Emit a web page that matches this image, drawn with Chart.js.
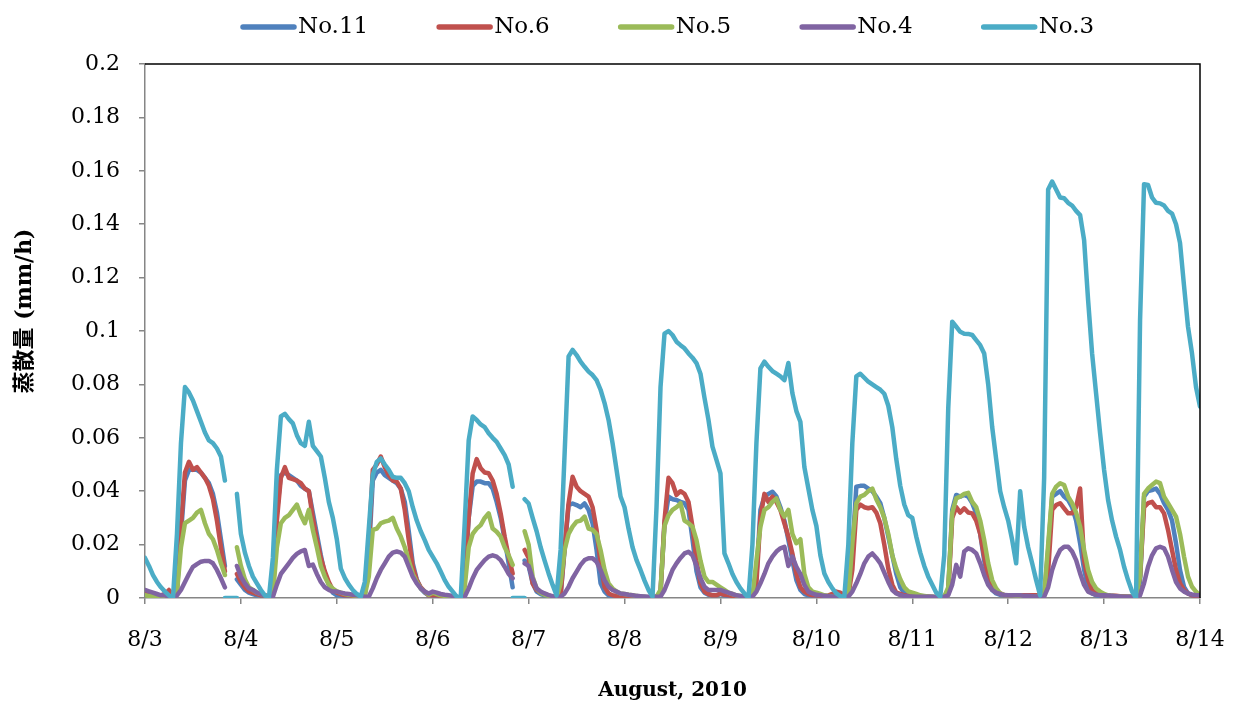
<!DOCTYPE html>
<html lang="ja">
<head>
<meta charset="utf-8">
<title>蒸散量</title>
<script src="https://cdn.jsdelivr.net/npm/chart.js@4.4.1/dist/chart.umd.min.js"></script>
<style>
  html, body { margin: 0; padding: 0; background: #fff; }
  #grafico { display: block; }
</style>
</head>
<body>
<canvas id="grafico" width="1237" height="711"></canvas>
<script>
// Etiquetas del eje X: un tick por día (agosto de 2010)
const etiquetasDias = ['8/3', '8/4', '8/5', '8/6', '8/7', '8/8', '8/9', '8/10', '8/11', '8/12', '8/13', '8/14'];

// Series y colores
const nombresSeries = ['No.11', 'No.6', 'No.5', 'No.4', 'No.3'];
const coloresSeries = ['#4F81BD', '#C0504D', '#9BBB59', '#8064A2', '#4BACC6'];

// Valores horarios en mm/h, una fila de 24 por día (8/3 0:00 ... 8/14 0:00). null = sin dato
const no11 = [
    [0.002, 0.0015, 0.001, 0.001, 0.001, 0.0012, 0.002, 0.001, 0.003, 0.024, 0.044, 0.048, 0.048, 0.048, 0.047, 0.045, 0.043, 0.039, 0.032, 0.022, 0.012, null, null, 0.007],
    [0.005, 0.003, 0.002, 0.0015, 0.001, 0.001, 0.0008, 0.0005, 0.002, 0.032, 0.046, 0.047, 0.046, 0.045, 0.044, 0.042, 0.041, 0.040, 0.032, 0.024, 0.016, 0.009, 0.005, 0.002],
    [0.001, 0.001, 0.0008, 0.0006, 0.0005, 0.0004, 0.0003, 0.001, 0.016, 0.044, 0.047, 0.048, 0.046, 0.045, 0.044, 0.043, 0.041, 0.036, 0.025, 0.013, 0.007, 0.0036, 0.002, 0.001],
    [0.001, 0.0008, 0.0006, 0.0005, 0.0004, 0.0003, 0.0002, 0, 0.007, 0.030, 0.042, 0.0436, 0.0436, 0.043, 0.043, 0.041, 0.036, 0.030, 0.022, 0.013, 0.004, null, null, 0.014],
    [0.012, 0.0055, 0.0024, 0.0015, 0.001, 0.0008, 0.0005, 0, 0.001, 0.018, 0.0348, 0.0354, 0.0348, 0.034, 0.0354, 0.033, 0.028, 0.018, 0.0055, 0.0024, 0.001, 0.0008, 0.0006, 0.0005],
    [0.0005, 0.0005, 0.0004, 0.0004, 0.0003, 0.0003, 0.0002, 0, 0.0005, 0.002, 0.028, 0.038, 0.037, 0.0367, 0.036, 0.0355, 0.033, 0.022, 0.010, 0.004, 0.002, 0.0012, 0.001, 0.001],
    [0.0015, 0.001, 0.0008, 0.0006, 0.0005, 0.0004, 0.0003, 0.0003, 0.0005, 0.008, 0.033, 0.038, 0.039, 0.0398, 0.038, 0.034, 0.029, 0.0217, 0.014, 0.0067, 0.003, 0.0015, 0.001, 0.0008],
    [0.0008, 0.0006, 0.0005, 0.0005, 0.0005, 0.0005, 0.0004, 0.0003, 0.001, 0.018, 0.0417, 0.042, 0.042, 0.041, 0.040, 0.038, 0.0355, 0.030, 0.023, 0.016, 0.009, 0.004, 0.002, 0.001],
    [0.0008, 0.0007, 0.0006, 0.0005, 0.0005, 0.0004, 0.0003, 0.0002, 0.0005, 0.003, 0.033, 0.0386, 0.038, 0.0386, 0.038, 0.0355, 0.0317, 0.024, 0.014, 0.0067, 0.003, 0.0017, 0.0012, 0.001],
    [0.001, 0.001, 0.001, 0.001, 0.001, 0.001, 0.001, 0.001, 0.001, 0.001, 0.018, 0.038, 0.039, 0.040, 0.038, 0.0367, 0.034, 0.029, 0.0205, 0.0105, 0.0042, 0.0017, 0.001, 0.0008],
    [0.0008, 0.0007, 0.0006, 0.0006, 0.0005, 0.0005, 0.0005, 0.0005, 0.0005, 0.006, 0.038, 0.040, 0.0404, 0.041, 0.039, 0.0355, 0.033, 0.029, 0.0205, 0.0105, 0.0042, 0.0017, 0.001, 0.0007],
    [0.0005]
];

const no6 = [
    [0.002, 0.0015, 0.001, 0.001, 0.001, 0.0015, 0.003, 0.001, 0.004, 0.027, 0.047, 0.051, 0.048, 0.049, 0.047, 0.045, 0.042, 0.037, 0.029, 0.019, 0.010, null, null, 0.009],
    [0.006, 0.004, 0.0025, 0.002, 0.0015, 0.001, 0.001, 0.0005, 0.002, 0.029, 0.045, 0.049, 0.045, 0.0445, 0.044, 0.043, 0.041, 0.040, 0.030, 0.022, 0.015, 0.010, 0.006, 0.003],
    [0.002, 0.0015, 0.001, 0.001, 0.0008, 0.0005, 0.0003, 0.001, 0.020, 0.048, 0.050, 0.053, 0.049, 0.046, 0.044, 0.0436, 0.041, 0.033, 0.0217, 0.0117, 0.0067, 0.004, 0.0024, 0.001],
    [0.001, 0.001, 0.0008, 0.0006, 0.0005, 0.0004, 0.0003, 0, 0.009, 0.030, 0.0467, 0.052, 0.0486, 0.047, 0.0467, 0.044, 0.039, 0.0317, 0.023, 0.0155, 0.0092, null, null, 0.018],
    [0.015, 0.0055, 0.003, 0.002, 0.0015, 0.001, 0.0005, 0, 0.001, 0.019, 0.0355, 0.0454, 0.0417, 0.040, 0.039, 0.038, 0.034, 0.0255, 0.013, 0.0042, 0.0017, 0.001, 0.0008, 0.0005],
    [0.0005, 0.0005, 0.0005, 0.0004, 0.0003, 0.0003, 0.0002, 0, 0.0005, 0.002, 0.029, 0.045, 0.043, 0.0386, 0.040, 0.039, 0.036, 0.0267, 0.014, 0.0055, 0.0024, 0.0015, 0.001, 0.001],
    [0.0017, 0.0012, 0.001, 0.0008, 0.0006, 0.0005, 0.0004, 0.0003, 0.0005, 0.0055, 0.030, 0.039, 0.036, 0.038, 0.036, 0.033, 0.028, 0.023, 0.0167, 0.009, 0.004, 0.0024, 0.0015, 0.001],
    [0.001, 0.0008, 0.0006, 0.001, 0.0015, 0.0024, 0.002, 0.001, 0.001, 0.0105, 0.033, 0.035, 0.034, 0.0336, 0.034, 0.032, 0.028, 0.020, 0.011, 0.005, 0.002, 0.0015, 0.001, 0.0008],
    [0.0008, 0.0007, 0.0006, 0.0005, 0.0005, 0.0004, 0.0003, 0.0002, 0.0005, 0.002, 0.030, 0.034, 0.032, 0.0336, 0.032, 0.0317, 0.029, 0.024, 0.0155, 0.008, 0.0042, 0.0024, 0.0017, 0.0011],
    [0.001, 0.001, 0.001, 0.001, 0.001, 0.001, 0.001, 0.001, 0.001, 0.001, 0.010, 0.033, 0.0348, 0.0355, 0.0336, 0.0317, 0.0317, 0.034, 0.041, 0.014, 0.0067, 0.003, 0.0017, 0.0011],
    [0.001, 0.001, 0.0008, 0.0008, 0.0007, 0.0006, 0.0005, 0.0005, 0.0005, 0.008, 0.034, 0.0355, 0.036, 0.034, 0.034, 0.0317, 0.0255, 0.018, 0.0105, 0.0055, 0.003, 0.0017, 0.001, 0.0008],
    [0.0005]
];

const no5 = [
    [0.001, 0.0008, 0.0006, 0.0005, 0.0004, 0.0003, 0.0002, 0, 0.002, 0.019, 0.028, 0.029, 0.030, 0.032, 0.033, 0.028, 0.024, 0.022, 0.018, 0.013, 0.0086, null, null, 0.019],
    [0.012, 0.007, 0.004, 0.003, 0.002, 0.0015, 0.001, 0.0005, 0.001, 0.019, 0.028, 0.030, 0.031, 0.033, 0.035, 0.031, 0.028, 0.033, 0.0255, 0.019, 0.012, 0.008, 0.005, 0.0035],
    [0.0025, 0.002, 0.0015, 0.0012, 0.001, 0.0008, 0.0005, 0.001, 0.008, 0.0255, 0.026, 0.028, 0.0286, 0.029, 0.030, 0.026, 0.023, 0.019, 0.014, 0.009, 0.006, 0.0036, 0.0024, 0.0012],
    [0.002, 0.0015, 0.001, 0.0008, 0.0006, 0.0005, 0.0003, 0, 0.004, 0.019, 0.024, 0.026, 0.0273, 0.030, 0.0317, 0.026, 0.0248, 0.023, 0.019, 0.016, 0.0124, null, null, 0.025],
    [0.020, 0.008, 0.0036, 0.002, 0.0012, 0.0008, 0.0005, 0, 0.0055, 0.018, 0.024, 0.0267, 0.0286, 0.029, 0.0305, 0.026, 0.0255, 0.024, 0.018, 0.0105, 0.0055, 0.0036, 0.0024, 0.0017],
    [0.0015, 0.0012, 0.001, 0.0008, 0.0006, 0.0005, 0.0003, 0, 0.0005, 0.003, 0.027, 0.031, 0.033, 0.034, 0.0355, 0.029, 0.028, 0.0267, 0.0217, 0.014, 0.008, 0.006, 0.006, 0.005],
    [0.004, 0.003, 0.002, 0.0015, 0.001, 0.0008, 0.0005, 0.0003, 0.0005, 0.014, 0.0267, 0.033, 0.034, 0.036, 0.0373, 0.033, 0.0305, 0.033, 0.024, 0.0205, 0.022, 0.009, 0.004, 0.0024],
    [0.002, 0.0015, 0.001, 0.0008, 0.0006, 0.0005, 0.0004, 0.0003, 0.001, 0.0205, 0.0355, 0.038, 0.0386, 0.040, 0.041, 0.037, 0.034, 0.030, 0.024, 0.016, 0.011, 0.007, 0.004, 0.0025],
    [0.002, 0.0015, 0.001, 0.0008, 0.0006, 0.0005, 0.0004, 0.0003, 0.0005, 0.004, 0.032, 0.0373, 0.038, 0.039, 0.0394, 0.036, 0.034, 0.029, 0.0217, 0.013, 0.0067, 0.0036, 0.0017, 0.0011],
    [0.001, 0.001, 0.0008, 0.0008, 0.0007, 0.0006, 0.0005, 0.0005, 0.0005, 0.001, 0.020, 0.039, 0.0417, 0.043, 0.0423, 0.038, 0.0355, 0.032, 0.0267, 0.018, 0.0105, 0.006, 0.0036, 0.0024],
    [0.0015, 0.001, 0.0008, 0.0007, 0.0006, 0.0005, 0.0005, 0.0005, 0.0005, 0.008, 0.039, 0.041, 0.0423, 0.0436, 0.043, 0.038, 0.0355, 0.033, 0.0305, 0.024, 0.0155, 0.008, 0.0042, 0.0024],
    [0.001]
];

const no4 = [
    [0.003, 0.0025, 0.002, 0.0015, 0.001, 0.001, 0.0005, 0, 0.001, 0.003, 0.006, 0.009, 0.0117, 0.0127, 0.0136, 0.0139, 0.0139, 0.013, 0.0105, 0.0074, 0.004, null, null, 0.012],
    [0.008, 0.0055, 0.0036, 0.003, 0.002, 0.0015, 0.001, 0.0005, 0.0005, 0.005, 0.009, 0.011, 0.013, 0.015, 0.0165, 0.0175, 0.018, 0.012, 0.0125, 0.009, 0.006, 0.004, 0.003, 0.0024],
    [0.0024, 0.002, 0.0017, 0.0015, 0.0012, 0.001, 0.0008, 0.0005, 0.0005, 0.0036, 0.0074, 0.0105, 0.013, 0.0155, 0.017, 0.0174, 0.017, 0.0155, 0.0117, 0.008, 0.0055, 0.0036, 0.0024, 0.0017],
    [0.0024, 0.002, 0.0015, 0.0012, 0.001, 0.0008, 0.0005, 0, 0.0005, 0.0036, 0.0074, 0.0105, 0.0124, 0.0142, 0.0155, 0.016, 0.0155, 0.0142, 0.0117, 0.009, 0.0074, null, null, 0.013],
    [0.012, 0.0074, 0.0036, 0.0024, 0.0017, 0.0011, 0.0007, 0.0005, 0.0005, 0.0017, 0.0042, 0.0074, 0.0099, 0.0124, 0.0142, 0.0149, 0.0149, 0.0136, 0.0105, 0.0067, 0.0042, 0.003, 0.0024, 0.0017],
    [0.0015, 0.0012, 0.001, 0.0008, 0.0007, 0.0006, 0.0005, 0.0005, 0.0005, 0.0005, 0.003, 0.0067, 0.0105, 0.013, 0.015, 0.0167, 0.0173, 0.016, 0.012, 0.0074, 0.0042, 0.003, 0.003, 0.003],
    [0.003, 0.0025, 0.002, 0.0015, 0.001, 0.0008, 0.0005, 0.0003, 0.0005, 0.0024, 0.0055, 0.009, 0.013, 0.0155, 0.0174, 0.0186, 0.0192, 0.012, 0.0155, 0.0117, 0.009, 0.0049, 0.0024, 0.0017],
    [0.0012, 0.001, 0.0008, 0.0007, 0.0006, 0.0005, 0.0005, 0.0005, 0.0005, 0.0024, 0.0055, 0.009, 0.013, 0.0155, 0.0167, 0.015, 0.013, 0.0095, 0.006, 0.003, 0.0017, 0.0011, 0.0008, 0.0006],
    [0.0006, 0.0005, 0.0005, 0.0005, 0.0005, 0.0005, 0.0004, 0.0003, 0.0005, 0.001, 0.005, 0.0124, 0.008, 0.0174, 0.0186, 0.018, 0.0167, 0.013, 0.0086, 0.0049, 0.003, 0.002, 0.0015, 0.0011],
    [0.001, 0.001, 0.001, 0.001, 0.0008, 0.0008, 0.0007, 0.0006, 0.0005, 0.0005, 0.004, 0.0105, 0.0149, 0.018, 0.0192, 0.0192, 0.0174, 0.0142, 0.0092, 0.0049, 0.0024, 0.0017, 0.0012, 0.001],
    [0.001, 0.0009, 0.0008, 0.0007, 0.0006, 0.0005, 0.0005, 0.0005, 0.0005, 0.001, 0.0055, 0.0117, 0.016, 0.0186, 0.0192, 0.0186, 0.0155, 0.0105, 0.006, 0.0036, 0.0024, 0.0017, 0.0013, 0.001],
    [0.001]
];

const no3 = [
    [0.015, 0.012, 0.0086, 0.006, 0.004, 0.0024, 0.001, 0, 0.024, 0.058, 0.079, 0.077, 0.074, 0.070, 0.066, 0.062, 0.059, 0.058, 0.056, 0.053, 0.044, null, null, 0.039],
    [0.024, 0.017, 0.012, 0.008, 0.0055, 0.003, 0.001, 0, 0.015, 0.048, 0.068, 0.069, 0.067, 0.0654, 0.061, 0.058, 0.057, 0.066, 0.057, 0.055, 0.053, 0.045, 0.036, 0.030],
    [0.022, 0.011, 0.0075, 0.005, 0.003, 0.0015, 0.0005, 0.006, 0.026, 0.046, 0.051, 0.0523, 0.050, 0.048, 0.0454, 0.045, 0.045, 0.043, 0.040, 0.034, 0.029, 0.025, 0.0217, 0.018],
    [0.0155, 0.013, 0.0099, 0.0067, 0.0042, 0.0024, 0.0005, 0, 0.028, 0.059, 0.068, 0.0667, 0.065, 0.064, 0.0617, 0.060, 0.0585, 0.056, 0.0535, 0.050, 0.0417, null, null, 0.037],
    [0.0354, 0.030, 0.025, 0.019, 0.014, 0.0092, 0.0049, 0.001, 0.018, 0.054, 0.0905, 0.0929, 0.091, 0.0885, 0.0866, 0.0848, 0.0835, 0.0816, 0.078, 0.073, 0.0667, 0.058, 0.048, 0.038],
    [0.034, 0.026, 0.019, 0.0142, 0.0105, 0.0065, 0.003, 0.0005, 0.034, 0.079, 0.099, 0.100, 0.0985, 0.096, 0.0947, 0.0935, 0.0916, 0.090, 0.088, 0.084, 0.075, 0.0667, 0.0567, 0.0517],
    [0.0467, 0.0167, 0.013, 0.009, 0.006, 0.0036, 0.0017, 0, 0.020, 0.058, 0.086, 0.0885, 0.0866, 0.085, 0.084, 0.083, 0.0816, 0.088, 0.0767, 0.070, 0.066, 0.049, 0.041, 0.033],
    [0.027, 0.016, 0.0092, 0.006, 0.0036, 0.0017, 0.0007, 0.0005, 0.020, 0.058, 0.083, 0.084, 0.0825, 0.081, 0.080, 0.079, 0.078, 0.0765, 0.072, 0.064, 0.052, 0.042, 0.035, 0.031],
    [0.030, 0.023, 0.017, 0.012, 0.008, 0.005, 0.002, 0.0005, 0.016, 0.071, 0.1035, 0.1016, 0.0997, 0.099, 0.0989, 0.0985, 0.0966, 0.0947, 0.0916, 0.080, 0.064, 0.052, 0.040, 0.034],
    [0.029, 0.0217, 0.013, 0.040, 0.0267, 0.019, 0.013, 0.0067, 0.001, 0.045, 0.153, 0.156, 0.153, 0.150, 0.1497, 0.148, 0.147, 0.145, 0.1434, 0.134, 0.1116, 0.0916, 0.0766, 0.0617],
    [0.048, 0.0367, 0.029, 0.023, 0.018, 0.0117, 0.0067, 0.0024, 0, 0.104, 0.155, 0.1547, 0.150, 0.148, 0.1478, 0.147, 0.145, 0.144, 0.140, 0.133, 0.117, 0.1016, 0.0916, 0.079],
    [0.0717]
];

// Horas (desde 8/3 0:00) en que No.3 quedó en cero, tramos sueltos sobre el eje
const no3HorasCero = [20, 21, 22, 23, 92, 93, 94, 95];

// Convierte las filas horarias en puntos {x: día, y: valor}
function armarPuntos(filas) {
    return filas.flat().map((y, i) => ({ x: i / 24, y: y }));
}

const valoresSeries = [no11, no6, no5, no4, no3];
const datasets = nombresSeries.map((nombre, i) => ({
    label: nombre,
    data: armarPuntos(valoresSeries[i]),
    borderColor: coloresSeries[i],
    backgroundColor: coloresSeries[i],
    borderWidth: 4.5,
    pointRadius: 0,
    tension: 0,
    spanGaps: false,
    borderCapStyle: 'round',
    borderJoinStyle: 'round',
    order: nombresSeries.length - i   // No.3 queda encima, como en el original
}));

const ceros = no3.flat().map((v, i) => ({ x: i / 24, y: no3HorasCero.includes(i) ? 0 : null }));
datasets.push({
    label: 'No.3 (cero)',
    data: ceros,
    borderColor: coloresSeries[4],
    borderWidth: 4.5,
    pointRadius: 0,
    spanGaps: false,
    borderCapStyle: 'round',
    order: 0
});

// Leyenda, título del eje Y y borde superior/derecho
const extras = {
    id: 'extras',
    afterDraw(chart) {
        const ctx = chart.ctx;
        const area = chart.chartArea;
        ctx.save();
        ctx.strokeStyle = '#000';
        ctx.lineWidth = 1.5;
        ctx.beginPath();
        ctx.moveTo(area.left, area.top);
        ctx.lineTo(area.right, area.top);
        ctx.lineTo(area.right, area.bottom);
        ctx.stroke();

        ctx.font = '23px "DejaVu Serif"';
        ctx.textBaseline = 'middle';
        ctx.textAlign = 'left';
        let x = 240;
        const y = 27;
        nombresSeries.forEach((nombre, i) => {
            ctx.strokeStyle = coloresSeries[i];
            ctx.lineWidth = 5.5;
            ctx.lineCap = 'round';
            ctx.beginPath();
            ctx.moveTo(x + 3, y);
            ctx.lineTo(x + 54, y);
            ctx.stroke();
            ctx.fillStyle = '#000';
            ctx.fillText(nombre, x + 58, y);
            x += 58 + ctx.measureText(nombre).width + 68;
        });

        ctx.translate(25, 311);
        ctx.rotate(-Math.PI / 2);
        ctx.font = 'bold 22px "DejaVu Serif", "Noto Sans CJK JP"';
        ctx.textAlign = 'center';
        ctx.fillText('蒸散量 (mm/h)', 0, 0);
        ctx.restore();
    }
};

const fuenteTicks = { family: '"DejaVu Serif"', size: 22 };

const ctx = document.getElementById('grafico').getContext('2d');
const grafico = new Chart(ctx, {
    type: 'line',
    data: { datasets: datasets },
    options: {
        responsive: false,
        animation: false,
        layout: { padding: { top: 64, right: 37, bottom: 0, left: 0 } },
        plugins: {
            legend: { display: false },
            tooltip: { enabled: false }
        },
        scales: {
            x: {
                type: 'linear',
                min: 0,
                max: 11,
                afterFit: s => { s.height = 113; s.paddingLeft = 0; s.paddingRight = 0; },
                border: { color: '#868686', width: 1.5 },
                grid: { drawOnChartArea: false, color: '#868686', tickLength: 6, lineWidth: 1.5 },
                ticks: {
                    stepSize: 1,
                    autoSkip: false,
                    maxRotation: 0,
                    padding: 23,
                    color: '#000',
                    font: fuenteTicks,
                    callback: v => etiquetasDias[v]
                },
                title: {
                    display: true,
                    text: 'August, 2010',
                    color: '#000',
                    font: { family: '"DejaVu Serif"', size: 20, weight: 'bold' },
                    padding: { top: 0, bottom: 8 }
                }
            },
            y: {
                min: 0,
                max: 0.2,
                afterFit: s => { s.width = 145; },
                border: { color: '#868686', width: 1.5 },
                grid: { drawOnChartArea: false, color: '#868686', tickLength: 6, lineWidth: 1.5 },
                ticks: {
                    stepSize: 0.02,
                    padding: 19,
                    color: '#000',
                    font: fuenteTicks,
                    callback: v => String(+v.toFixed(2))
                }
            }
        }
    },
    plugins: [extras]
});
</script>
</body>
</html>
